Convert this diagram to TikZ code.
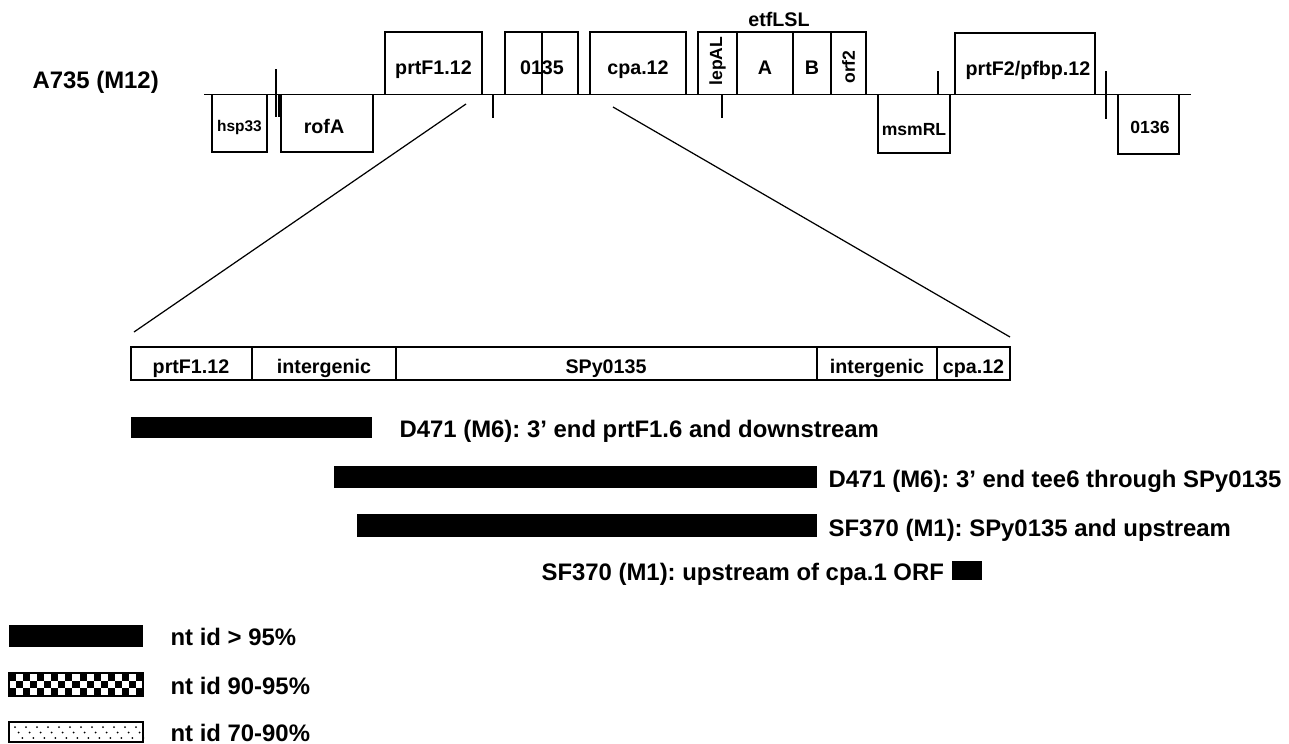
\documentclass[tikz,border=0pt]{standalone}
\usepackage{fontspec}
\setmainfont{Liberation Sans}
\frenchspacing
\usetikzlibrary{positioning}
\tikzset{every picture/.style={line width=0.7pt}}
\tikzset{
  gene/.style={font=\fontsize{11.2}{13}\selectfont\bfseries,inner sep=0pt},
  genesm/.style={font=\fontsize{10}{12}\selectfont\bfseries,inner sep=0pt},
  caption/.style={font=\fontsize{13.6}{16}\selectfont\bfseries,inner sep=0pt},
}

\begin{document}
\begin{tikzpicture}[x=0.02cm,y=-0.02cm]
    \useasboundingbox (0,0) rectangle (1289,744);
    % 菌株名
    \node[caption,anchor=base west] (strain) at (32,88) {A735 (M12)};

    % 基因组主线
    \coordinate (gstart) at (204,94.5);
    \coordinate (gend) at (1191,94.5);
    \draw (gstart) -- (gend);

    % 线上方的基因
    \draw (385,32) rectangle (482,94.5);
    \node[gene,anchor=base] (prtF) at (433.5,74) {prtF1.12};
    \draw (505,32) rectangle (578,94.5);
    \draw (542,32) -- (542,94.5);
    \node[gene,anchor=base] (spy) at (542,74) {0135};
    \draw (590,32) rectangle (686,94.5);
    \node[gene,anchor=base] (cpa) at (638,74) {cpa.12};
    \draw (698,32) rectangle (866,94.5);
    \draw (737,32) -- (737,94.5);
    \draw (793,32) -- (793,94.5);
    \draw (831,32) -- (831,94.5);
    \node[genesm,rotate=90] (lepAL) at (717.5,61) {lepAL};
    \node[gene,anchor=base] (etfA) at (765,74) {A};
    \node[gene,anchor=base] (etfB) at (812,74) {B};
    \node[genesm,rotate=90] (orf) at (848.5,67) {orf2};
    \node[gene,anchor=base] (etf) at (779,26) {etfLSL};
    \draw (955,33) rectangle (1095,94.5);
    \node[gene,anchor=base] (prtFtwo) at (1028,75) {prtF2/pfbp.12};

    % 线下方的基因
    \draw (212,94.5) rectangle (267,152);
    \node[font=\fontsize{8.8}{10}\selectfont\bfseries,inner sep=0pt,anchor=base] (hsp) at (239.5,131) {hsp33};
    \draw (281,94.5) rectangle (373,152);
    \node[gene,anchor=base] (rofA) at (324,133) {rofA};
    \draw (878,94.5) rectangle (950,153);
    \node[genesm,anchor=base] (msm) at (914,135) {msmRL};
    \draw (1118,94.5) rectangle (1179,154);
    \node[genesm,anchor=base] (orfb) at (1150,133) {0136};

    % 短竖线
    \draw (276,69) -- (276,117);
    \draw (279,94.5) -- (279,117);
    \draw (493,94.5) -- (493,118);
    \draw (722,94.5) -- (722,118);
    \draw (938,71) -- (938,94.5);
    \draw (1106,71) -- (1106,119);

    % 放大区域
    \coordinate (zla) at (466,104);
    \coordinate (zlb) at (134,332);
    \coordinate (zra) at (613,107);
    \coordinate (zrb) at (1010,337);
    \draw (zla) -- (zlb);
    \draw (zra) -- (zrb);
    \draw (131,347) rectangle (1010,380);
    \foreach \x in {252,396,817,937}
        \draw (\x,347) -- (\x,380);
    \node[gene,anchor=base] (zprtF) at (191,373) {prtF1.12};
    \node[gene,anchor=base] (zinta) at (324,373) {intergenic};
    \node[gene,anchor=base] (zspy) at (606,373) {SPy0135};
    \node[gene,anchor=base] (zintb) at (877,373) {intergenic};
    \node[gene,anchor=base] (zcpa) at (973.5,373) {cpa.12};

    % 同源片段
    \fill (131,417) rectangle (372,438);
    \node[caption,anchor=base west] (hita) at (399,437) {D471 (M6): 3’ end prtF1.6 and downstream};
    \fill (334,466) rectangle (817,488);
    \node[caption,anchor=base west] (hitb) at (828,487) {D471 (M6): 3’ end tee6 through SPy0135};
    \fill (357,514) rectangle (817,537);
    \node[caption,anchor=base west] (hitc) at (828,536) {SF370 (M1): SPy0135 and upstream};
    \node[caption,anchor=base west] (hitd) at (541,580) {SF370 (M1): upstream of cpa.1 ORF};
    \fill (952,561) rectangle (982,580);

    % 图例
    \fill (9,625) rectangle (143,647);
    \node[caption,anchor=base west] (keya) at (170,645) {nt id > 95\%};
    \foreach \i in {0,...,18}
        \foreach \j in {0,1,2} {
            \pgfmathtruncatemacro\k{mod(\i+\j,2)}
            \ifnum\k=0
                \fill (9+\i*7.05,673+\j*7.67) rectangle (9+\i*7.05+7.05,673+\j*7.67+7.67);
            \fi
        }
    \draw (9,673) rectangle (143,696);
    \node[caption,anchor=base west] (keyb) at (170,694) {nt id 90-95\%};
    \draw (9,722) rectangle (143,742);
    \foreach \i in {0,...,11}
        \foreach \j in {0,1,2} {
            \fill (15+\i*11+\j*3.7,727+\j*5.5) circle (1);
        }
    \node[caption,anchor=base west] (keyc) at (170,741) {nt id 70-90\%};
\end{tikzpicture}
\end{document}
